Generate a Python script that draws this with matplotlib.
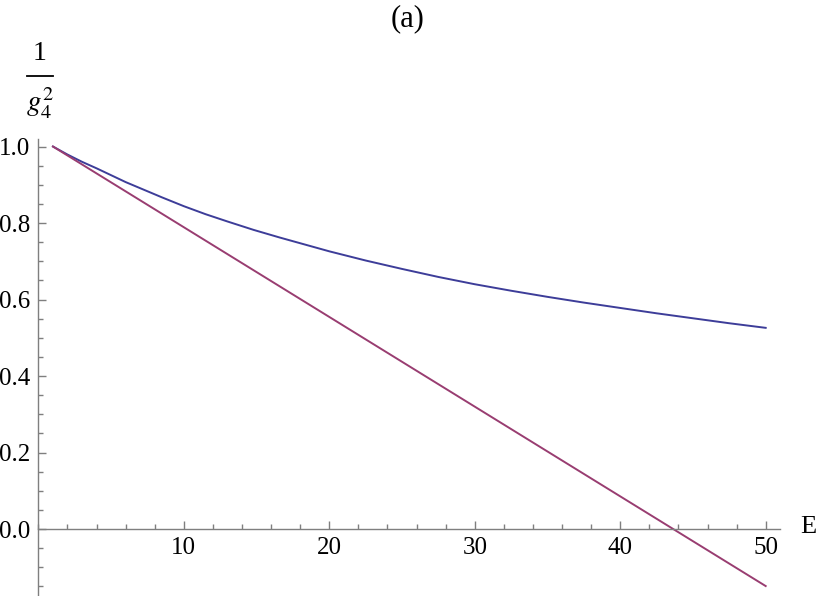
import matplotlib
matplotlib.use("Agg")
import matplotlib.pyplot as plt
from matplotlib.lines import Line2D
from matplotlib.ticker import MultipleLocator, FormatStrFormatter

plt.rcParams['font.family'] = ['Liberation Serif', 'DejaVu Serif']
plt.rcParams['mathtext.fontset'] = 'stix'

# values
E_blue = [1, 2, 3, 4, 5, 6, 7, 8.5, 10, 11.5, 13, 14.8, 16.6, 18.3, 20, 22.5,
          25, 27.5, 30, 32.5, 35, 37.5, 40, 42.5, 45, 47.5, 50]
g_blue = [1.0, 0.979, 0.96, 0.943, 0.925, 0.907, 0.891, 0.867, 0.844, 0.823,
          0.804, 0.782, 0.762, 0.744, 0.726, 0.702, 0.680, 0.659, 0.640, 0.623,
          0.607, 0.592, 0.578, 0.564, 0.551, 0.538, 0.526]
E_red = [1, 50]
g_red = [1.0, -0.149]

blue = (0.24, 0.24, 0.6)
purple = (0.6, 0.24, 0.442)
axcol = '#7f7f7f'

fig = plt.figure(figsize=(8.17, 5.96), dpi=100)
ax = fig.add_axes([0.047, 0.0, 0.908, 0.767])

ax.plot(E_blue, g_blue, color=blue, lw=1.4)
ax.plot(E_red, g_red, color=purple, lw=1.4)

ax.set_xlim(0, 51)
ax.set_ylim(-0.175, 1.02)

# mathematica style axes crossing at the origin
ax.spines['top'].set_visible(False)
ax.spines['right'].set_visible(False)
ax.spines['left'].set_position(('data', 0))
ax.spines['bottom'].set_position(('data', 0))
for s in ('left', 'bottom'):
    ax.spines[s].set_color(axcol)
    ax.spines[s].set_linewidth(1.0)

ax.xaxis.set_major_locator(MultipleLocator(10))
ax.xaxis.set_minor_locator(MultipleLocator(2))
ax.yaxis.set_major_locator(MultipleLocator(0.2))
ax.yaxis.set_minor_locator(MultipleLocator(0.05))
ax.yaxis.set_major_formatter(FormatStrFormatter('%.1f'))

ax.tick_params(axis='x', which='major', direction='in', length=6, width=1,
               color=axcol, labelsize=18, pad=6)
ax.tick_params(axis='x', which='minor', direction='in', length=3.5, width=1, color=axcol)
ax.tick_params(axis='y', which='major', direction='in', length=6, width=1,
               color=axcol, labelsize=18, pad=6)
ax.tick_params(axis='y', which='minor', direction='in', length=3.5, width=1, color=axcol)

ax.set_xticks([10, 20, 30, 40, 50])
ax.set_yticks([0.0, 0.2, 0.4, 0.6, 0.8, 1.0])

fig.text(808 / 817, 1 - 527 / 596, 'E', fontsize=19, ha='center', va='center')
fig.text(408 / 817, 1 - 19 / 596, '(a)', fontsize=22, ha='center', va='center')

# y label drawn as a stacked fraction 1 / g_4^2
fig.text(40 / 817, 1 - 54 / 596, '1', fontsize=20, ha='center', va='center')
fig.add_artist(Line2D([27 / 817, 53 / 817], [1 - 76 / 596, 1 - 76 / 596],
                      color='black', lw=1.3, transform=fig.transFigure))
fig.text(40 / 817, 1 - 103 / 596, r'$g_4^2$', fontsize=21, ha='center', va='center')

fig.savefig('out.png', dpi=100)
